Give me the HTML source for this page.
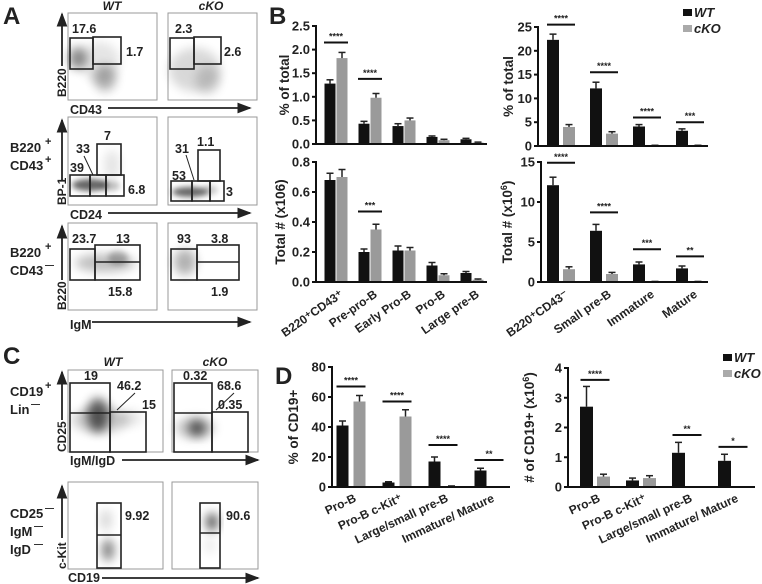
<!DOCTYPE html>
<html><head><meta charset="utf-8"><style>
body{margin:0;background:#fff}
svg{display:block;font-family:"Liberation Sans",Arial,sans-serif}
text{font-weight:bold;fill:#222}
</style></head><body>
<svg id="fig" width="762" height="584" viewBox="0 0 762 584" xmlns="http://www.w3.org/2000/svg">
<defs>
<filter id="blur" x="-50%" y="-50%" width="200%" height="200%"><feGaussianBlur stdDeviation="5"/></filter>
<filter id="blur2" x="-50%" y="-50%" width="200%" height="200%"><feGaussianBlur stdDeviation="3"/></filter>
<marker id="arr" markerWidth="8" markerHeight="8" refX="7" refY="4" orient="auto"><path d="M0,1 L8,4 L0,7 Z" fill="#222"/></marker>
</defs>
<g id="flow"></g>
<g id="charts"></g>
</svg>
<script>
// ---------- Chart data ----------
const catsB1 = ["B220\u207ACD43\u207A","Pre-pro-B","Early Pro-B","Pro-B","Large pre-B"];
const wtB1 = [1.28,0.43,0.38,0.15,0.1];
const koB1 = [1.82,0.98,0.5,0.08,0.03];
const wtErrB1 = [0.08,0.05,0.05,0.02,0.02];
const koErrB1 = [0.12,0.09,0.05,0.02,0.01];
const sigB1 = ["****","****","","",""];
const sigYB1 = [2.15,1.38,0,0,0];
const ticksB1 = [0,0.5,1.0,1.5,2.0,2.5];

const wtB2 = [0.68,0.2,0.21,0.11,0.06];
const koB2 = [0.70,0.35,0.21,0.045,0.015];
const wtErrB2 = [0.045,0.02,0.03,0.02,0.01];
const koErrB2 = [0.05,0.035,0.02,0.01,0.005];
const sigB2 = ["","***","","",""];
const sigYB2 = [0,0.47,0,0,0];
const ticksB2 = [0,0.2,0.4,0.6,0.8];

const catsB3 = ["B220\u207ACD43\u207B","Small pre-B","Immature","Mature"];
const wtB3 = [22.3,12.1,4.1,3.2];
const koB3 = [4.0,2.6,0.1,0.1];
const wtErrB3 = [1.2,1.3,0.4,0.4];
const koErrB3 = [0.5,0.4,0.05,0.05];
const sigB3 = ["****","****","****","***"];
const sigYB3 = [25.5,15.5,6.0,5.0];
const ticksB3 = [0,5,10,15,20,25];

const wtB4 = [12.1,6.4,2.2,1.7];
const koB4 = [1.6,1.0,0.05,0.05];
const wtErrB4 = [1.0,0.8,0.3,0.3];
const koErrB4 = [0.3,0.2,0.02,0.02];
const sigB4 = ["****","****","***","**"];
const sigYB4 = [14.9,8.7,4.1,3.2];
const ticksB4 = [0,5,10,15];

const catsD = ["Pro-B","Pro-B c-Kit\u207A","Large/small pre-B","Immature/ Mature"];
const wtD1 = [41,3,17,11];
const koD1 = [57,47,0.5,0];
const wtErrD1 = [3,0.5,3,1.5];
const koErrD1 = [4,4.5,0.2,0];
const sigD1 = ["****","****","****","**"];
const sigYD1 = [67,57,28,18];
const ticksD1 = [0,20,40,60,80];

const wtD2 = [2.7,0.22,1.15,0.88];
const koD2 = [0.35,0.3,0,0];
const wtErrD2 = [0.68,0.08,0.35,0.22];
const koErrD2 = [0.08,0.08,0,0];
const sigD2 = ["****","","**","*"];
const sigYD2 = [3.6,0,1.75,1.35];
const ticksD2 = [0,1,2,3,4];

const NS="http://www.w3.org/2000/svg";
function el(tag,attrs,parent,txt){const e=document.createElementNS(NS,tag);for(const k in attrs)e.setAttribute(k,attrs[k]);if(txt!==undefined)e.textContent=txt;parent.appendChild(e);return e;}

function chart(c){
  const g=el('g',{},document.getElementById('charts'));
  
  
  const vmax=c.ticks[c.ticks.length-1];
  const yS=v=>c.y0-(v/vmax)*(c.y0-c.yTop);
  const xC=i=>c.first+i*c.step;
  for(let i=0;i<c.wt.length;i++){
    [[c.wt[i],c.wtErr[i],-c.off,'#111','wt'],[c.ko[i],c.koErr[i],c.off,'#9a9a9a','cko']].forEach(([v,e,o,col,s])=>{
      const cx=xC(i)+o;
      const r=el('rect',{x:cx-c.bw/2,y:yS(v),width:c.bw,height:c.y0-yS(v),fill:col},g);
      
      
      if(e>0){
        el('line',{x1:cx,x2:cx,y1:yS(v),y2:yS(v+e),stroke:'#222','stroke-width':1.5},g);
        el('line',{x1:cx-3.5,x2:cx+3.5,y1:yS(v+e),y2:yS(v+e),stroke:'#222','stroke-width':1.5},g);
      }
    });
    if(c.sig[i]){
      const y=yS(c.sigY[i]);
      el('line',{x1:xC(i)-c.off-6,x2:xC(i)+c.off+6,y1:y,y2:y,stroke:'#111','stroke-width':2},g);
      const t=el('text',{x:xC(i),y:y-3,'text-anchor':'middle','font-size':9},g,c.sig[i]);
      
      
    }
    if(c.cats){
      const lx=xC(i)+c.catDx, ly=c.y0+14;
      const t=el('text',{x:lx,y:ly,'text-anchor':'end','font-size':12,transform:`rotate(${c.rot} ${lx} ${ly})`},g,c.cats[i]);
      
      
    }
  }
  el('line',{x1:c.x0,x2:c.x0,y1:c.y0+1,y2:c.yTop-1,stroke:'#111','stroke-width':2},g);
  el('line',{x1:c.x0-1,x2:c.xEnd,y1:c.y0,y2:c.y0,stroke:'#111','stroke-width':2},g);
  c.ticks.forEach(t=>{
    const y=yS(t);
    el('line',{x1:c.x0-4,x2:c.x0,y1:y,y2:y,stroke:'#111','stroke-width':2},g);
    const tl=el('text',{x:c.x0-6,y:y+4.5,'text-anchor':'end','font-size':13},g,c.fmt(t));
    
    
  });
  const cy=(c.y0+c.yTop)/2;
  const yl=el('text',{x:c.ylx,y:cy,'text-anchor':'middle','font-size':13.5,transform:`rotate(-90 ${c.ylx} ${cy})`},g);
  
  
  yl.innerHTML=c.ylabel;
}
const f1=t=>t.toFixed(1), f0=t=>String(t);
chart({name:'chart-b-percent-pro',x0:316,xEnd:487,y0:144,yTop:26,ticks:ticksB1,fmt:f1,wt:wtB1,ko:koB1,wtErr:wtErrB1,koErr:koErrB1,sig:sigB1,sigY:sigYB1,first:336,step:34,off:6,bw:11,ylabel:'% of total',ylx:289});
chart({name:'chart-b-total-pro',x0:316,xEnd:487,y0:282,yTop:162,ticks:ticksB2,fmt:f1,wt:wtB2,ko:koB2,wtErr:wtErrB2,koErr:koErrB2,sig:sigB2,sigY:sigYB2,first:336,step:34,off:6,bw:11,cats:catsB1,catDx:8,rot:-35,ylabel:'Total # (x106)',ylx:285});
chart({name:'chart-b-percent-pre',x0:538,xEnd:708,y0:146,yTop:27,ticks:ticksB3,fmt:f0,wt:wtB3,ko:koB3,wtErr:wtErrB3,koErr:koErrB3,sig:sigB3,sigY:sigYB3,first:561,step:43,off:8,bw:12,ylabel:'% of total',ylx:513});
chart({name:'chart-b-total-pre',x0:541,xEnd:708,y0:282,yTop:162,ticks:ticksB4,fmt:f0,wt:wtB4,ko:koB4,wtErr:wtErrB4,koErr:koErrB4,sig:sigB4,sigY:sigYB4,first:561,step:43,off:8,bw:12,cats:catsB3,catDx:8,rot:-35,ylabel:'Total # (x10<tspan dy="-5" font-size="9">6</tspan><tspan dy="5">)</tspan>',ylx:512});
chart({name:'chart-d-percent',x0:332,xEnd:510,y0:487,yTop:367,ticks:ticksD1,fmt:f0,wt:wtD1,ko:koD1,wtErr:wtErrD1,koErr:koErrD1,sig:sigD1,sigY:sigYD1,first:351,step:46,off:8.5,bw:12,cats:catsD,catDx:6,rot:-25,ylabel:'% of CD19+',ylx:298});
chart({name:'chart-d-number',x0:568,xEnd:755,y0:487,yTop:368,ticks:ticksD2,fmt:f0,wt:wtD2,ko:koD2,wtErr:wtErrD2,koErr:koErrD2,sig:sigD2,sigY:sigYD2,first:595,step:46,off:8.5,bw:13,cats:catsD,catDx:6,rot:-25,ylabel:'# of CD19+ (x10<tspan dy="-5" font-size="9">6</tspan><tspan dy="5">)</tspan>',ylx:534});

function legend(x,y,nm){
  const g=el('g',{},document.getElementById('charts'));
  
  
  el('rect',{x:x,y:y-8,width:9,height:7,fill:'#111'},g);
  el('text',{x:x+11,y:y,'font-size':13,'font-style':'italic'},g,'WT');
  el('rect',{x:x,y:y+8,width:9,height:7,fill:'#aaa'},g);
  el('text',{x:x+11,y:y+16,'font-size':13,'font-style':'italic'},g,'cKO');
}
legend(683,17,'legend-b');
legend(723,362,'legend-d');

// ---------- Flow panels ----------
const F=document.getElementById('flow');
function T(x,y,s,size,extra){const t=el('text',Object.assign({x:x,y:y,'font-size':size||12.5},extra||{}),F,s);return t;}
function frame(x,y,w,h,nm){const r=el('rect',{x:x,y:y,width:w,height:h,fill:'none',stroke:'#999','stroke-width':1},F);}
function blob(cx,cy,rx,ry,op,b){el('ellipse',{cx:cx,cy:cy,rx:rx,ry:ry,fill:'#000',opacity:op,filter:b?'url(#blur2)':'url(#blur)'},F);}
function box(x,y,w,h){el('rect',{x:x,y:y,width:w,height:h,fill:'none',stroke:'#222','stroke-width':1.6},F);}
function hline(x1,x2,y){el('line',{x1:x1,x2:x2,y1:y,y2:y,stroke:'#222','stroke-width':1.8,'marker-end':'url(#arr)'},F);}
function vline(x,y1,y2){el('line',{x1:x,x2:x,y1:y1,y2:y2,stroke:'#222','stroke-width':1.8,'marker-end':'url(#arr)'},F);}
function arrowLine(x1,y1,x2,y2){el('line',{x1:x1,y1:y1,x2:x2,y2:y2,stroke:'#222','stroke-width':1},F);}

T(3,24,'A',24,{'font-weight':'normal'});
T(269,24,'B',24,{'font-weight':'normal'});
T(3,364,'C',24,{'font-weight':'normal'});
T(275,384,'D',24,{'font-weight':'normal'});

T(112,10,'WT',12,{'text-anchor':'middle','font-style':'italic'});
T(211,10,'cKO',12,{'text-anchor':'middle','font-style':'italic'});
[[68,'wt'],[168,'cko']].forEach(([x,s])=>{
  frame(x,13,89,87,'plot-a1-'+s); frame(x,117,89,88,'plot-a2-'+s); frame(x,223,89,87,'plot-a3-'+s);
});
blob(78,58,9,11,0.45); blob(105,78,11,13,0.3); blob(100,62,20,20,0.1);
blob(195,70,26,22,0.15); blob(208,80,12,14,0.15);
box(70,38,23,31); box(93,37,28,27); box(170,38,24,31); box(194,37,27,27);
T(72,33,'17.6'); T(126,56,'1.7'); T(175,33,'2.3'); T(224,56,'2.6');
vline(62,66,14); T(66,97,'B220',12,{transform:'rotate(-90 66 97)'});
T(70,114,'CD43',12.5); hline(108,250,108);
blob(90,185,18,6,0.6,true); blob(112,165,8,15,0.1); blob(110,186,10,5,0.25,true);
blob(190,192,18,5,0.6,true); blob(210,190,8,5,0.2,true);
box(97,144,24,31); box(70,175,20,21); box(90,175,16,21); box(106,175,18,21);
box(198,150,22,31); box(171,181,21,20); box(192,181,18,20); box(210,181,14,20);
T(76,153,'33'); T(104,140,'7'); T(70,172,'39'); T(128,194,'6.8');
T(175,153,'31'); T(197,146,'1.1'); T(172,180,'53'); T(226,196,'3');
arrowLine(84,156,93,175); arrowLine(186,155,194,180);
T(10,152,'B220',13); T(45,145,'+',11); T(10,170,'CD43',13); T(45,163,'+',11);
vline(62,180,120); T(66,205,'BP-1',12,{transform:'rotate(-90 66 205)'});
T(70,219,'CD24',12.5); hline(108,250,213);
blob(105,263,30,9,0.25); blob(118,258,10,7,0.25,true);
blob(185,262,11,13,0.3);
box(70,249,25,31); box(95,245,45,35); el('line',{x1:95,x2:140,y1:262,y2:262,stroke:'#222','stroke-width':1.6},F);
box(171,249,26,31); box(197,245,42,35); el('line',{x1:197,x2:239,y1:262,y2:262,stroke:'#222','stroke-width':1.6},F);
T(72,243,'23.7'); T(116,243,'13'); T(108,296,'15.8');
T(177,243,'93'); T(211,243,'3.8'); T(211,296,'1.9');
T(10,257,'B220',13); T(45,250,'+',11); T(10,275,'CD43',13); T(45,268,'\u2014',9);
vline(62,280,226); T(66,310,'B220',12,{transform:'rotate(-90 66 310)'});
T(70,329,'IgM',12.5); hline(92,250,322);

T(113,366,'WT',12,{'text-anchor':'middle','font-style':'italic'});
T(215,366,'cKO',12,{'text-anchor':'middle','font-style':'italic'});
frame(68,370,95,82,'plot-c1-wt'); frame(172,370,86,82,'plot-c1-cko');
frame(68,482,95,87,'plot-c2-wt'); frame(172,482,86,87,'plot-c2-cko');
blob(98,415,11,17,0.6); blob(100,420,28,13,0.2); blob(130,418,12,8,0.1);
blob(197,428,9,8,0.6); blob(195,428,20,11,0.2);
box(70,383,40,69); box(110,412,36,40); el('line',{x1:70,x2:110,y1:413,y2:413,stroke:'#222','stroke-width':1.6},F);
box(174,383,38,69); box(212,412,36,40); el('line',{x1:174,x2:212,y1:413,y2:413,stroke:'#222','stroke-width':1.6},F);
T(84,380,'19'); T(117,390,'46.2'); T(142,409,'15');
T(183,380,'0.32'); T(217,390,'68.6'); T(218,409,'0.35');
arrowLine(135,393,117,410); arrowLine(234,393,216,410);
T(10,396,'CD19',13); T(45,389,'+',11); T(10,414,'Lin',13); T(31,407,'\u2014',9);
vline(62,420,372); T(66,452,'CD25',12,{transform:'rotate(-90 66 452)'});
T(70,465,'IgM/IgD',12.5); hline(122,258,460);
blob(108,550,6,11,0.5); blob(106,520,6,11,0.15);
blob(212,522,6,9,0.65); blob(210,545,5,10,0.08);
box(97,503,24,65); el('line',{x1:97,x2:121,y1:535,y2:535,stroke:'#222','stroke-width':1.6},F);
box(200,503,20,65); el('line',{x1:200,x2:220,y1:533,y2:533,stroke:'#222','stroke-width':1.6},F);
T(125,520,'9.92'); T(226,520,'90.6');
T(10,518,'CD25',13); T(45,511,'\u2014',9); T(10,536,'IgM',13); T(34,529,'\u2014',9); T(10,554,'IgD',13); T(34,547,'\u2014',9);
vline(62,538,486); T(66,569,'c-Kit',12,{transform:'rotate(-90 66 569)'});
T(68,582,'CD19',12.5); hline(102,258,578);
</script>
</body></html>
